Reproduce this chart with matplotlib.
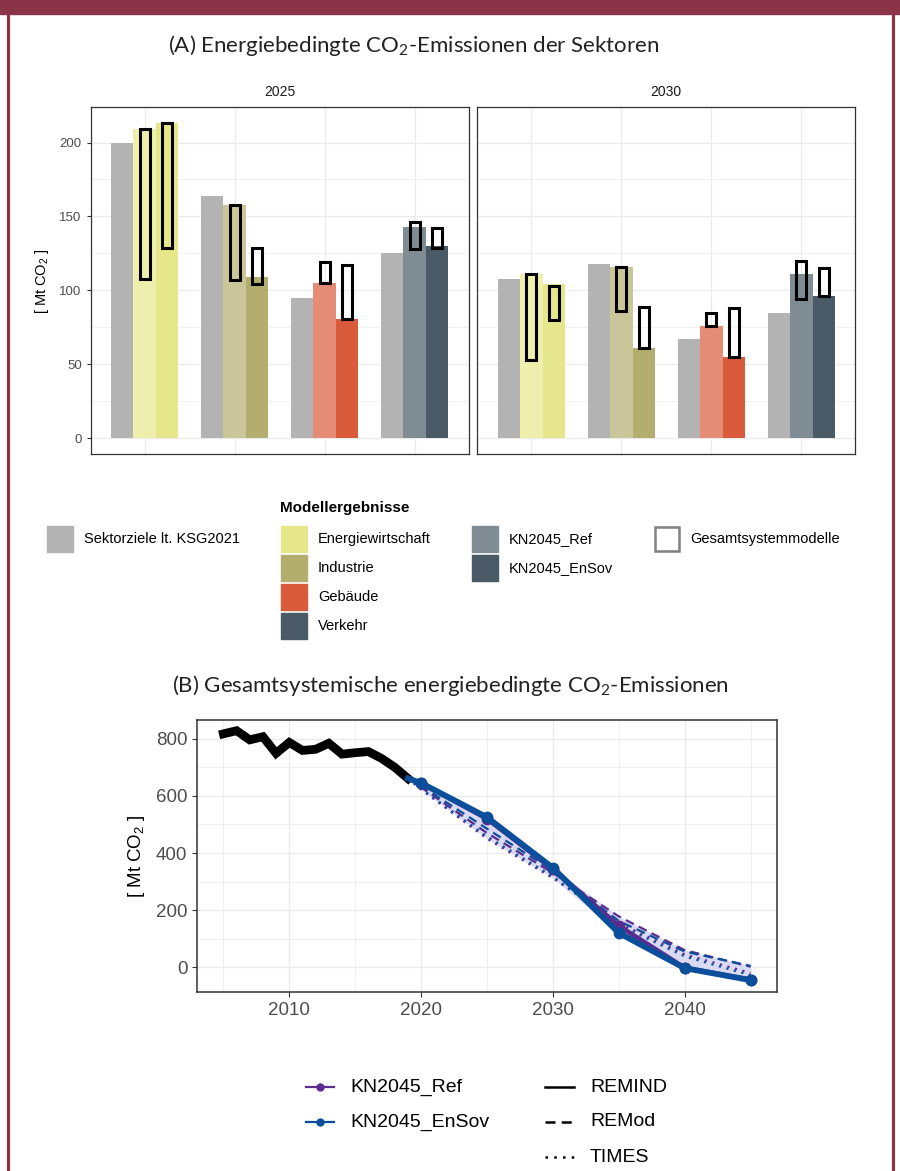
import numpy as np
import matplotlib.pyplot as plt
import matplotlib.colors as mcolors
from matplotlib.patches import Rectangle
from matplotlib.lines import Line2D
from matplotlib.ticker import MultipleLocator

plt.rcParams['font.family'] = ['Liberation Sans', 'DejaVu Sans']

# ---- data (A) sector emissions, Mt CO2
sectors = ['Energiewirtschaft', 'Industrie', 'Gebäude', 'Verkehr']
sector_colors = ['#E6E68A', '#B4AE6E', '#DA5A3C', '#4A5A66']
panel_years = ['2025', '2030']
ksg = [[200, 164, 95, 125], [108, 118, 67, 85]]
ref = [[209, 158, 105, 143], [111, 116, 76, 111]]
ensov = [[213, 109, 81, 130], [104, 61, 55, 96]]
# Gesamtsystemmodelle ranges (low, high)
ref_lo = [[108, 107, 105, 128], [53, 86, 76, 94]]
ref_hi = [[209, 158, 119, 146], [111, 116, 85, 120]]
ensov_lo = [[129, 104, 81, 129], [80, 61, 55, 96]]
ensov_hi = [[213, 129, 117, 142], [103, 89, 88, 115]]

# ---- data (B) total emissions
hist_years = list(range(2005, 2020))
hist = [817, 828, 796, 807, 749, 787, 759, 763, 784, 746, 751, 755, 731, 700, 661]
fut_years = [2019, 2020, 2025, 2030, 2035, 2040, 2045]
ref_remind = [661, 645, 520, 343, 145, -2, -44]
ensov_remind = [661, 645, 525, 348, 120, -3, -45]
ref_remod = [661, 630, 470, 330, 178, 60, 2]
ensov_remod = [661, 635, 485, 338, 162, 55, 5]
ref_times = [661, 622, 450, 312, 155, 45, -20]
ensov_times = [661, 625, 458, 318, 148, 38, -28]

W, H = 900, 1171
fig = plt.figure(figsize=(9, 11.71), dpi=100)


def fx(px):
    return px / W


def fy(py):
    return 1 - py / H


def light(c, a=0.7):
    r = np.array(mcolors.to_rgb(c))
    return tuple(r * a + (1 - a))


grid_c = '#EBEBEB'
spine_c = '#333333'
tick_c = '#4D4D4D'
co2 = 'CO$_\\mathregular{2}$'

# frame
fig.add_artist(Rectangle((0, fy(14)), 1, 14 / H, color='#8B3449', transform=fig.transFigure))
for xp in [7.5, 892.5]:
    fig.add_artist(Line2D([fx(xp), fx(xp)], [0, 1], color='#8B3449', lw=2.3, transform=fig.transFigure))

# ---- panel A
fig.text(fx(414), fy(46), '(A) Energiebedingte ' + co2 + '-Emissionen der Sektoren',
         ha='center', va='center', fontsize=16, family='Lato', color='#222222')

x = np.arange(1, 5)
lefts = [90.7, 477.3]
for j, yr in enumerate(panel_years):
    ax = fig.add_axes([fx(lefts[j]), fy(454), 378 / W, 346.7 / H])
    ax.bar(x - 0.25, ksg[j], 0.25, color='#B3B3B3', zorder=2)
    ax.bar(x, ref[j], 0.25, color=[light(c) for c in sector_colors], zorder=2)
    ax.bar(x + 0.25, ensov[j], 0.25, color=sector_colors, zorder=2)
    lo, hi = np.array(ref_lo[j]), np.array(ref_hi[j])
    ax.bar(x, hi - lo, 0.11, bottom=lo, fill=False, edgecolor='black', lw=2.2, zorder=3)
    lo, hi = np.array(ensov_lo[j]), np.array(ensov_hi[j])
    ax.bar(x + 0.25, hi - lo, 0.11, bottom=lo, fill=False, edgecolor='black', lw=2.2, zorder=3)

    ax.set_xlim(0.4, 4.6)
    ax.set_ylim(-10.6, 223.8)
    ax.set_xticks(x)
    ax.set_yticks([0, 50, 100, 150, 200])
    ax.yaxis.set_minor_locator(MultipleLocator(25))
    ax.set_axisbelow(True)
    ax.grid(which='major', color=grid_c, lw=0.9)
    ax.grid(which='minor', axis='y', color=grid_c, lw=0.5)
    ax.tick_params(axis='x', length=0, labelbottom=False)
    ax.tick_params(axis='y', which='minor', length=0)
    if j == 0:
        ax.tick_params(axis='y', length=3, color=spine_c, labelsize=9.5, labelcolor=tick_c)
        ax.set_ylabel('[ Mt ' + co2 + ' ]', fontsize=10.5, labelpad=6)
    else:
        ax.tick_params(axis='y', length=0, labelleft=False)
    for s in ax.spines.values():
        s.set_color(spine_c)
        s.set_linewidth(0.9)
    ax.set_title(yr, fontsize=10, pad=8, color='#1A1A1A')

# legend A
fig.text(fx(280), fy(508), 'Modellergebnisse', fontsize=11, fontweight='bold', va='center')
leg_cols = [
    (47, [('Sektorziele lt. KSG2021', '#B3B3B3')]),
    (281, [(s, c) for s, c in zip(sectors, sector_colors)]),
    (472, [('KN2045_Ref', light('#4A5A66')), ('KN2045_EnSov', '#4A5A66')]),
]
row_y = [526, 555, 584, 612.5]
for x0, items in leg_cols:
    for k, (lab, c) in enumerate(items):
        fig.add_artist(Rectangle((fx(x0), fy(row_y[k] + 26)), 26 / W, 26 / H, color=c,
                                 transform=fig.transFigure))
        fig.text(fx(x0 + 37), fy(row_y[k] + 13), lab, fontsize=10.5, va='center')
fig.add_artist(Rectangle((fx(655), fy(551)), 24 / W, 24 / H, facecolor='white', edgecolor='#808080',
                         lw=1.8, transform=fig.transFigure))
fig.text(fx(690), fy(539), 'Gesamtsystemmodelle', fontsize=10.5, va='center')

# ---- panel B
fig.text(fx(450), fy(686), '(B) Gesamtsystemische energiebedingte ' + co2 + '-Emissionen',
         ha='center', va='center', fontsize=16, family='Lato', color='#222222')

axb = fig.add_axes([fx(197), fy(992.3), 580 / W, 272.3 / H])
allf = np.array([ref_remind, ensov_remind, ref_remod, ensov_remod, ref_times, ensov_times])
axb.fill_between(fut_years, allf.min(axis=0), allf.max(axis=0), color='#D9DAF2', lw=0, zorder=1)
axb.plot(hist_years, hist, color='black', lw=6.3, solid_joinstyle='miter', zorder=3)

c_ref = '#5B2C8F'
c_ens = '#0B4F9C'
axb.plot(fut_years, ref_remod, color=c_ref, lw=1.6, dashes=(4, 2.5), zorder=4)
axb.plot(fut_years, ensov_remod, color=c_ens, lw=1.6, dashes=(4, 2.5), zorder=4)
axb.plot(fut_years, ref_times, color=c_ref, lw=1.6, dashes=(1, 2.5), zorder=4)
axb.plot(fut_years, ensov_times, color=c_ens, lw=1.6, dashes=(1, 2.5), zorder=4)
axb.plot(fut_years, ref_remind, color=c_ref, lw=3.4, marker='o', ms=7.5,
         markevery=slice(1, None), zorder=5)
axb.plot(fut_years, ensov_remind, color=c_ens, lw=4.2, marker='o', ms=7.5,
         markevery=slice(1, None), zorder=6)

axb.set_xlim(2003, 2047)
axb.set_ylim(-87.5, 865.5)
axb.set_xticks([2010, 2020, 2030, 2040])
axb.set_yticks([0, 200, 400, 600, 800])
axb.xaxis.set_minor_locator(MultipleLocator(5))
axb.yaxis.set_minor_locator(MultipleLocator(100))
axb.set_axisbelow(True)
axb.grid(which='major', color=grid_c, lw=1.0)
axb.grid(which='minor', color=grid_c, lw=0.55)
axb.tick_params(which='major', length=3.5, color=spine_c, labelsize=13.5, labelcolor=tick_c)
axb.tick_params(which='minor', length=0)
axb.set_ylabel('[ Mt ' + co2 + ' ]', fontsize=13.5, labelpad=6)
for s in axb.spines.values():
    s.set_color(spine_c)
    s.set_linewidth(1.1)

# legend B
scen = [('KN2045_Ref', c_ref), ('KN2045_EnSov', c_ens)]
leg_rows = [1087, 1122, 1157]
for k, (lab, c) in enumerate(scen):
    yy = fy(leg_rows[k])
    fig.add_artist(Line2D([fx(306), fx(320), fx(334)], [yy] * 3, color=c, lw=1.6, marker='o', ms=5,
                          markevery=[1], transform=fig.transFigure))
    fig.text(fx(350), yy, lab, fontsize=14, va='center')
models = [('REMIND', None), ('REMod', (4, 2.5)), ('TIMES', (1, 2.5))]
for k, (lab, d) in enumerate(models):
    yy = fy(leg_rows[k])
    ln = Line2D([fx(545), fx(574)], [yy] * 2, color='black', lw=1.8, transform=fig.transFigure)
    if d is not None:
        ln.set_dashes(d)
    fig.add_artist(ln)
    fig.text(fx(590), yy, lab, fontsize=14, va='center')

fig.savefig('out.png', dpi=100)
